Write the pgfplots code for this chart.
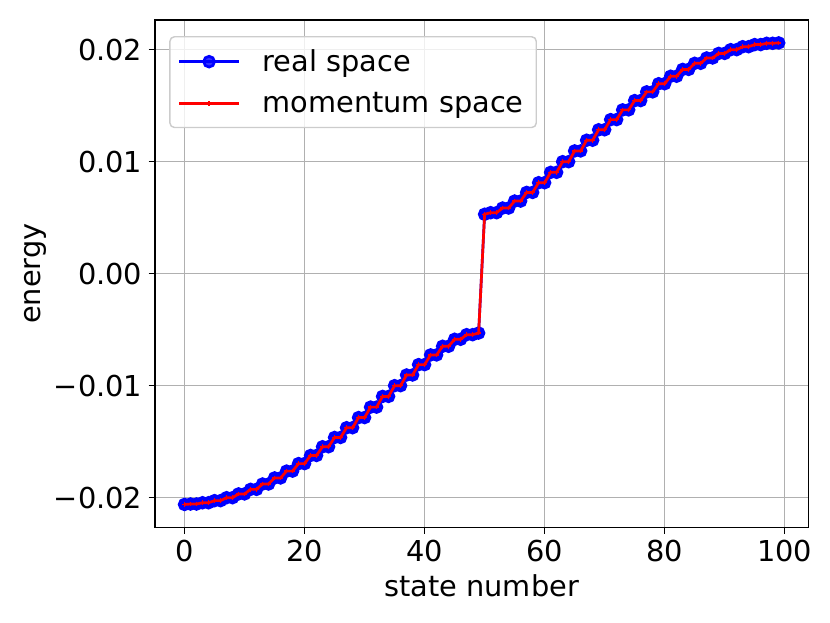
\documentclass[border=0pt]{standalone}
\usepackage{fontspec}
\setmainfont{DejaVu Sans}
\usepackage{pgfplots}
\usepackage{pgfplotstable}
\pgfplotsset{compat=1.18}
\definecolor{gridgray}{RGB}{176,176,176}
\definecolor{legedge}{RGB}{204,204,204}
\pgfplotstableread{
n E
0 -0.020600
1 -0.020562
2 -0.020562
3 -0.020448
4 -0.020448
5 -0.020260
6 -0.020260
7 -0.019996
8 -0.019996
9 -0.019660
10 -0.019660
11 -0.019253
12 -0.019253
13 -0.018776
14 -0.018776
15 -0.018232
16 -0.018232
17 -0.017624
18 -0.017624
19 -0.016954
20 -0.016954
21 -0.016228
22 -0.016228
23 -0.015449
24 -0.015449
25 -0.014621
26 -0.014621
27 -0.013751
28 -0.013751
29 -0.012845
30 -0.012845
31 -0.011911
32 -0.011911
33 -0.010957
34 -0.010957
35 -0.009996
36 -0.009996
37 -0.009044
38 -0.009044
39 -0.008120
40 -0.008120
41 -0.007252
42 -0.007252
43 -0.006481
44 -0.006481
45 -0.005858
46 -0.005858
47 -0.005445
48 -0.005445
49 -0.005300
50 0.005300
51 0.005445
52 0.005445
53 0.005858
54 0.005858
55 0.006481
56 0.006481
57 0.007252
58 0.007252
59 0.008120
60 0.008120
61 0.009044
62 0.009044
63 0.009996
64 0.009996
65 0.010957
66 0.010957
67 0.011911
68 0.011911
69 0.012845
70 0.012845
71 0.013751
72 0.013751
73 0.014621
74 0.014621
75 0.015449
76 0.015449
77 0.016228
78 0.016228
79 0.016954
80 0.016954
81 0.017624
82 0.017624
83 0.018232
84 0.018232
85 0.018776
86 0.018776
87 0.019253
88 0.019253
89 0.019660
90 0.019660
91 0.019996
92 0.019996
93 0.020260
94 0.020260
95 0.020448
96 0.020448
97 0.020562
98 0.020562
99 0.020600
}\energies
\begin{document}
\begin{tikzpicture}
\begin{axis}[
  scale only axis,
  width=363pt, height=282pt,
  clip mode=individual,
  xmin=-4.95, xmax=103.95,
  ymin=-0.02266, ymax=0.02266,
  xtick={0,20,40,60,80,100},
  ytick={-0.02,-0.01,0,0.01,0.02},
  yticklabels={−0.02,−0.01,0.00,0.01,0.02},
  scaled y ticks=false,
  /pgf/number format/assume math mode=true,
  tick label style={font=\fontsize{16}{19}\selectfont},
  label style={font=\fontsize{16}{19}\selectfont},
  xlabel={state number},
  ylabel={energy},
  ylabel shift=-3pt,
  grid=major,
  major grid style={gridgray, line width=0.8pt},
  axis line style={black, line width=0.8pt},
  tick style={black, line width=0.8pt},
  tick align=outside,
  major tick length=3.5pt,
  xtick pos=bottom, ytick pos=left,
  legend style={
    at={(0.022,0.968)}, anchor=north west,
    draw=legedge, line width=0.8pt, rounded corners=2.5pt,
    fill=white, fill opacity=0.8, text opacity=1,
    font=\fontsize{16}{19}\selectfont,
    inner sep=4.5pt, row sep=5pt,
    nodes={inner sep=2.5pt},
  },
  legend cell align=left,
  legend image code/.code={\draw[line width=1.5pt,mark repeat=2,mark phase=2] plot coordinates {(0pt,0pt) (16.5pt,0pt) (33pt,0pt)};\path (43pt,0pt);},
]
\addplot[blue, line width=1.5pt, mark=*, mark size=3pt, mark options={fill=blue, draw=blue}] table[x=n, y=E] {\energies};
\addlegendentry{real space}
\addplot[red, line width=1.5pt, mark=+, mark size=1.3pt, mark options={line width=0.7pt}] table[x=n, y=E] {\energies};
\addlegendentry{momentum space}
\end{axis}
\path ([shift={(-86pt,-53pt)}]current axis.south west) ([shift={(12pt,11pt)}]current axis.north east);
\end{tikzpicture}
\end{document}
